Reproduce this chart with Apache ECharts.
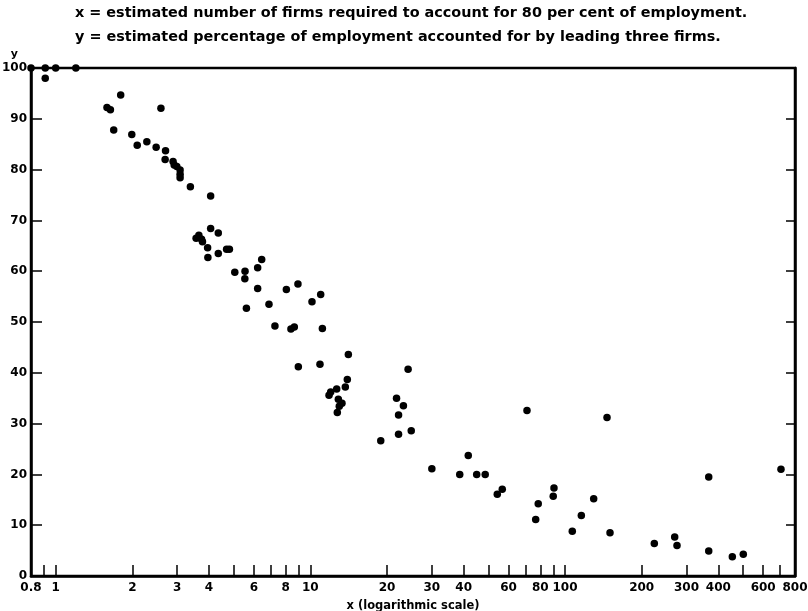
<!DOCTYPE html>
<html><head><meta charset="utf-8">
<script src="https://cdn.jsdelivr.net/npm/echarts@6/dist/echarts.min.js"></script>
<style>html,body{margin:0;padding:0;background:#fff}#chart{width:808px;height:611px}</style>
</head><body><div id="chart"></div>
<script>
const TITLE_LINES = [
  'x = estimated number of firms required to account for 80 per cent of employment.',
  'y = estimated percentage of employment accounted for by leading three firms.'
];
const X_NAME = 'x (logarithmic scale)';
const Y_NAME = 'y';
const X_MIN = 0.8, X_MAX = 800;
const X_TICKS = [0.9,1,2,3,4,5,6,7,8,9,10,20,30,40,50,60,70,80,90,100,200,300,400,500,600,700,800];
const X_TICK_LABELS = [0.8,1,2,3,4,6,8,10,20,30,40,60,80,100,200,300,400,600,800];
const Y_MIN = 0, Y_MAX = 100, Y_STEP = 10;

const firmsX = [0.8,0.91,1.0,1.2,0.91,1.59,1.64,1.8,2.59,1.69,1.99,2.09,2.28,2.48,2.70,2.69,2.89,2.92,2.99,3.08,3.08,3.08,3.38,4.06,4.06,4.35,3.65,3.56,3.74,3.77,3.95,3.96,4.35,4.69,4.81,6.44,6.21,5.05,5.54,5.53,6.21,8.05,8.94,10.98,10.15,6.88,5.61,7.26,8.39,8.65,11.15,14.1,8.97,10.91,13.97,13.72,12.69,12.02,11.84,12.88,13.31,12.99,12.76,24.2,21.8,23.2,22.2,24.9,22.2,18.9,41.7,30.0,38.6,45.0,48.6,54.2,56.7,70.9,78.5,76.7,90.5,89.9,129.6,115.9,106.8,146.2,150.2,224.2,269.6,275.3,366.7,366.7,453.9,501.3,704.8];
const shareY = [100,100,100,100,98,92.2,91.8,94.7,92.1,87.8,86.9,84.8,85.5,84.4,83.7,82.0,81.6,80.9,80.6,79.9,79.1,78.4,76.6,74.8,68.4,67.5,67.1,66.5,66.3,65.8,64.6,62.7,63.5,64.3,64.3,62.3,60.7,59.8,60.0,58.5,56.6,56.4,57.5,55.4,54.0,53.5,52.7,49.2,48.6,49.0,48.7,43.6,41.2,41.7,38.7,37.2,36.8,36.2,35.6,34.8,34.0,33.4,32.2,40.7,35.0,33.5,31.7,28.6,27.9,26.6,23.7,21.1,20.0,20.0,20.0,16.1,17.1,32.6,14.2,11.1,17.3,15.7,15.2,11.9,8.8,31.2,8.5,6.4,7.7,6.0,19.5,4.9,3.8,4.3,21.0];

const FONT = 'DejaVu Sans';
const INK = '#000';
const points = firmsX.map((x, i) => [x, shareY[i]]);

const chart = echarts.init(document.getElementById('chart'), null, {renderer: 'canvas'});
chart.setOption({
  backgroundColor: '#fff',
  animation: false,
  title: {
    text: TITLE_LINES.join('\n'),
    left: 75, top: 1, padding: 0,
    textStyle: {fontFamily: FONT, fontSize: 14.4, fontWeight: 'bold', color: INK, lineHeight: 24}
  },
  grid: {left: 31, right: 13, top: 68, bottom: 35, containLabel: false, outerBoundsMode: 'none',
    show: true, borderColor: INK, borderWidth: 2.5, backgroundColor: 'transparent'},
  xAxis: [
    {type: 'log', logBase: 10, min: X_MIN, max: X_MAX, show: false},
    {
      type: 'value', position: 'bottom',
      min: Math.log10(X_MIN), max: Math.log10(X_MAX),
      name: X_NAME, nameLocation: 'middle', nameGap: 24,
      nameTextStyle: {fontFamily: FONT, fontSize: 11.5, fontWeight: 'bold', color: INK},
      axisLine: {show: true, onZero: false, lineStyle: {color: INK, width: 2.5}},
      axisTick: {show: true, inside: true, length: 11, lineStyle: {color: INK, width: 1.5},
        customValues: X_TICKS.map(v => Math.log10(v))},
      axisLabel: {show: true, margin: 6, fontFamily: FONT, fontSize: 12, fontWeight: 'bold', color: INK,
        customValues: X_TICK_LABELS.map(v => Math.log10(v)),
        formatter: v => String(+Math.pow(10, v).toPrecision(2))},
      splitLine: {show: false}
    }
  ],
  yAxis: [
    {
      type: 'value', position: 'left', min: Y_MIN, max: Y_MAX, interval: Y_STEP,
      name: Y_NAME, nameLocation: 'end', nameGap: 8,
      nameTextStyle: {fontFamily: FONT, fontSize: 11, fontWeight: 'bold', color: INK, align: 'right', padding: [0, 13, 0, 0]},
      axisLine: {show: true, onZero: false, lineStyle: {color: INK, width: 2.5}},
      axisTick: {show: true, inside: true, length: 11, lineStyle: {color: INK, width: 1.5}},
      axisLabel: {margin: 4, fontFamily: FONT, fontSize: 12, fontWeight: 'bold', color: INK},
      splitLine: {show: false}
    },
    {
      type: 'value', position: 'right', min: Y_MIN, max: Y_MAX, interval: Y_STEP,
      axisLine: {show: true, onZero: false, lineStyle: {color: INK, width: 2.5}},
      axisTick: {show: true, inside: true, length: 9, lineStyle: {color: INK, width: 1.5}},
      axisLabel: {show: false},
      splitLine: {show: false}
    }
  ],
  series: [{
    type: 'scatter', xAxisIndex: 0, yAxisIndex: 0,
    data: points, symbol: 'circle', symbolSize: 7.5,
    itemStyle: {color: INK, opacity: 1}, clip: false
  }]
});
</script></body></html>
